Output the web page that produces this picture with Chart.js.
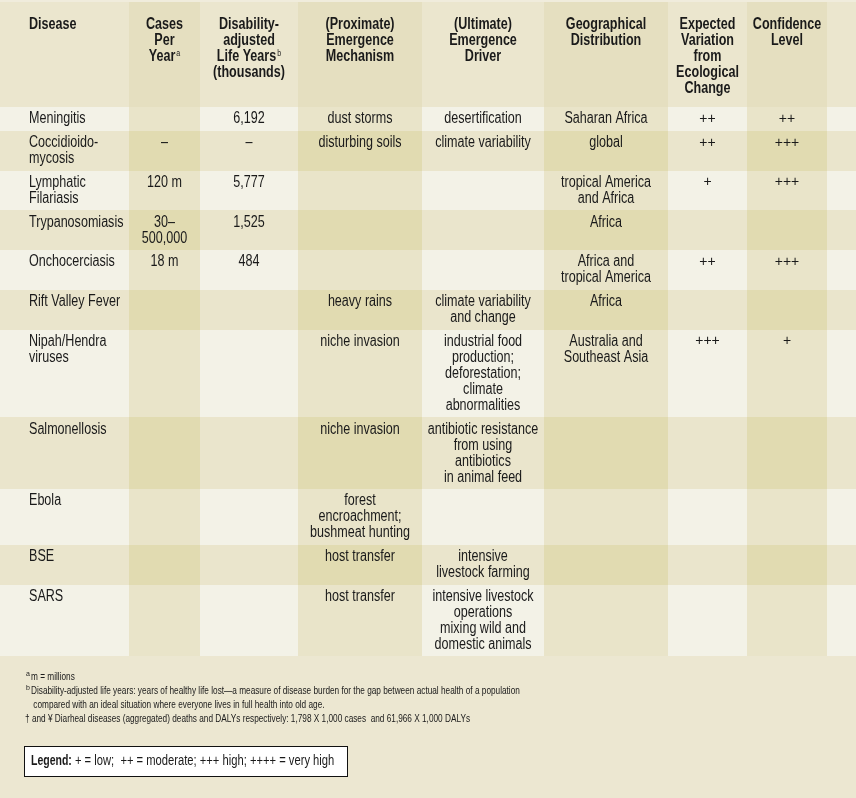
<!DOCTYPE html>
<html>
<head>
<meta charset="utf-8">
<script src="https://cdn.jsdelivr.net/npm/chart.js@4"></script>
<style>
  html, body { margin: 0; padding: 0; background: #ece7d1; }
  canvas { display: block; }
</style>
</head>
<body>
<canvas id="tableChart" width="856" height="798"></canvas>
<script>
// table content
const headers = ['Disease', 'Cases\nPer\nYear^a', 'Disability-\nadjusted\nLife Years^b\n(thousands)',
  '(Proximate)\nEmergence\nMechanism', '(Ultimate)\nEmergence\nDriver', 'Geographical\nDistribution',
  'Expected\nVariation\nfrom\nEcological\nChange', 'Confidence\nLevel', ''];
const diseases = ['Meningitis', 'Coccidioido-\nmycosis', 'Lymphatic\nFilariasis', 'Trypanosomiasis',
  'Onchocerciasis', 'Rift Valley Fever', 'Nipah/Hendra\nviruses', 'Salmonellosis', 'Ebola', 'BSE', 'SARS'];
const casesPerYear = ['', '–', '120 m', '30–\n500,000', '18 m', '', '', '', '', '', ''];
const dalys = ['6,192', '–', '5,777', '1,525', '484', '', '', '', '', '', ''];
const proximate = ['dust storms', 'disturbing soils', '', '', '', 'heavy rains', 'niche invasion',
  'niche invasion', 'forest\nencroachment;\nbushmeat hunting', 'host transfer', 'host transfer'];
const ultimate = ['desertification', 'climate variability', '', '', '', 'climate variability\nand change',
  'industrial food\nproduction;\ndeforestation;\nclimate\nabnormalities',
  'antibiotic resistance\nfrom using\nantibiotics\nin animal feed', '',
  'intensive\nlivestock farming', 'intensive livestock\noperations\nmixing wild and\ndomestic animals'];
const geography = ['Saharan Africa', 'global', 'tropical America\nand Africa', 'Africa',
  'Africa and\ntropical America', 'Africa', 'Australia and\nSoutheast Asia', '', '', '', ''];
const variation = ['++', '++', '+', '', '++', '', '+++', '', '', '', ''];
const confidence = ['++', '+++', '+++', '', '+++', '', '+', '', '', '', ''];

const footnoteMarks = ['a', 'b', ''];
const footnotes = [
  'm = millions',
  'Disability-adjusted life years: years of healthy life lost—a measure of disease burden for the gap between actual health of a population\n compared with an ideal situation where everyone lives in full health into old age.',
  '† and ¥ Diarheal diseases (aggregated) deaths and DALYs respectively: 1,798 X 1,000 cases  and 61,966 X 1,000 DALYs'
];
const legendLabel = 'Legend:';
const legendText = ' + = low;  ++ = moderate; +++ high; ++++ = very high';

// layout (Liberation Sans squeezed sideways stands in for a condensed face)
const FONT = '"Liberation Sans", Arial, sans-serif';
const NARROW = 0.785;
const colEdges = [0, 129, 200, 298, 422, 544, 668, 747, 827, 856];
const tableTop = 2, headerHeight = 105, lineH = 16;
const columnsData = [diseases, casesPerYear, dalys, proximate, ultimate, geography, variation, confidence];

const rowLines = diseases.map((_, r) =>
  Math.max(...columnsData.map(col => col[r] ? col[r].split('\n').length : 1)));
const rowEdges = [tableTop, tableTop + headerHeight];
rowLines.forEach(n => rowEdges.push(rowEdges[rowEdges.length - 1] + n * lineH + 7.75));

function cellColor(r, c) {
  const darkCol = c % 2 === 1;
  if (r < 0) return darkCol ? '#e5dfc0' : '#ebe6ce';
  if (r % 2 === 1) return darkCol ? '#e1dbb1' : '#eae5cc';
  return darkCol ? '#e9e4c9' : '#f3f2e7';
}

function textWidth(ctx, text, font, sx) {
  ctx.font = font;
  return ctx.measureText(text).width * sx;
}

function narrowText(ctx, text, x, y, font, sx) {
  ctx.save();
  ctx.font = font;
  ctx.textAlign = 'left';
  ctx.textBaseline = 'middle';
  ctx.translate(x, y);
  ctx.scale(sx, 1);
  ctx.fillText(text, 0, 0);
  ctx.restore();
}

// draws one line, "^x" at the end becomes a superscript
function drawLine(ctx, text, x, y, align, size, bold, sx) {
  sx = sx || NARROW;
  const parts = text.split('^');
  const main = parts[0], sup = parts[1] || '';
  const f = (bold ? 'bold ' : '') + size + 'px ' + FONT;
  const fs = Math.round(size * 0.55) + 'px ' + FONT;
  const w = textWidth(ctx, main, f, sx);
  const ws = sup ? textWidth(ctx, sup, fs, sx) + 1 : 0;
  const left = align === 'center' ? x - (w + ws) / 2 : x;
  narrowText(ctx, main, left, y, f, sx);
  if (sup) narrowText(ctx, sup, left + w + 1, y - 3, fs, sx);
}

const tablePlugin = {
  id: 'table',
  beforeDraw(chart) {
    const ctx = chart.ctx;
    const xs = chart.scales.x, ys = chart.scales.y;
    const px = v => xs.getPixelForValue(v);
    const py = v => ys.getPixelForValue(v);
    ctx.save();
    ctx.fillStyle = '#ece7d1';
    ctx.fillRect(0, 0, chart.width, chart.height);
    ctx.fillStyle = '#f0ecdc';
    ctx.fillRect(px(0), py(0), px(856) - px(0), py(tableTop) - py(0));

    // cell backgrounds
    for (let r = -1; r < diseases.length; r++) {
      for (let c = 0; c < colEdges.length - 1; c++) {
        const x0 = px(colEdges[c]), x1 = px(colEdges[c + 1]);
        const y0 = Math.round(py(rowEdges[r + 1])), y1 = Math.round(py(rowEdges[r + 2]));
        ctx.fillStyle = cellColor(r, c);
        ctx.fillRect(x0, y0, x1 - x0, y1 - y0);
      }
    }

    ctx.fillStyle = '#1a1a1a';
    // header
    headers.forEach((h, c) => {
      if (!h) return;
      const x = c === 0 ? px(colEdges[0] + 29) : (px(colEdges[c]) + px(colEdges[c + 1])) / 2;
      h.split('\n').forEach((line, i) => {
        drawLine(ctx, line, x, py(rowEdges[0] + 23 + i * lineH), c === 0 ? 'left' : 'center', 16, true);
      });
    });

    // body; the +/++ ratings keep their full width
    columnsData.forEach((col, c) => {
      const isRating = c >= 6;
      col.forEach((txt, r) => {
        if (!txt) return;
        const x = c === 0 ? px(colEdges[0] + 29) : (px(colEdges[c]) + px(colEdges[c + 1])) / 2;
        txt.split('\n').forEach((line, i) => {
          drawLine(ctx, line, x, py(rowEdges[r + 1] + 12 + i * lineH), c === 0 ? 'left' : 'center',
            isRating ? 14 : 16, false, isRating ? 1 : NARROW);
        });
      });
    });

    // footnotes
    let fy = 677;
    footnotes.forEach((note, i) => {
      const mark = footnoteMarks[i];
      if (mark) narrowText(ctx, mark, px(26), py(fy - 3), '7px ' + FONT, 1);
      note.split('\n').forEach(line => {
        narrowText(ctx, line, px(mark ? 31 : 25), py(fy), '11px ' + FONT, 0.75);
        fy += 13.5;
      });
      fy += 0.5;
    });

    // legend box
    ctx.fillStyle = '#ffffff';
    ctx.fillRect(px(24), py(746), px(348) - px(24), py(777) - py(746));
    ctx.strokeStyle = '#111111';
    ctx.lineWidth = 1;
    ctx.strokeRect(px(24) + 0.5, py(746) + 0.5, px(348) - px(24) - 1, py(777) - py(746) - 1);
    ctx.fillStyle = '#1a1a1a';
    const lf = 'bold 14px ' + FONT;
    narrowText(ctx, legendLabel, px(31), py(761), lf, 0.75);
    const lw = textWidth(ctx, legendLabel, lf, 0.75);
    narrowText(ctx, legendText, px(31) + lw, py(761), '14px ' + FONT, 0.8);
    ctx.restore();
  }
};

new Chart(document.getElementById('tableChart'), {
  type: 'scatter',
  data: { datasets: [] },
  options: {
    responsive: false,
    animation: false,
    devicePixelRatio: 1,
    layout: { padding: 0 },
    plugins: { legend: { display: false }, tooltip: { enabled: false } },
    scales: {
      x: { type: 'linear', min: 0, max: 856, display: false },
      y: { type: 'linear', min: 0, max: 798, reverse: true, display: false }
    }
  },
  plugins: [tablePlugin]
});
</script>
</body>
</html>
